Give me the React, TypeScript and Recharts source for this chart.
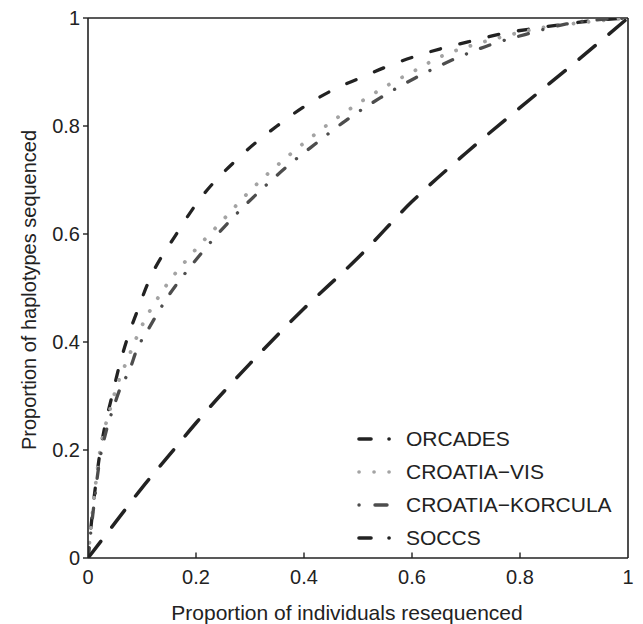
import React from 'react';
import {
  LineChart, Line, XAxis, YAxis, ReferenceLine,
} from 'recharts';

if (typeof document !== 'undefined') {
  document.body.style.margin = '0';
}

const FONT = '"Liberation Sans", Arial, Helvetica, sans-serif';
const INK = '#222222';

const TICKS = [0, 0.2, 0.4, 0.6, 0.8, 1];

const orcadesX = [0, 0.01, 0.02, 0.031, 0.044, 0.056, 0.072, 0.09, 0.111, 0.165, 0.2, 0.281, 0.35, 0.402, 0.454, 0.504, 0.556, 0.609, 0.664, 0.717, 0.772, 0.828, 0.886, 0.935, 1];
const orcadesY = [0, 0.1, 0.18, 0.243, 0.298, 0.348, 0.404, 0.454, 0.509, 0.602, 0.655, 0.743, 0.8, 0.837, 0.867, 0.889, 0.911, 0.93, 0.946, 0.959, 0.972, 0.981, 0.989, 0.995, 1];

const visX = [0, 0.01, 0.024, 0.03, 0.038, 0.053, 0.075, 0.096, 0.139, 0.192, 0.25, 0.3, 0.37, 0.393, 0.461, 0.507, 0.556, 0.606, 0.656, 0.707, 0.763, 0.846, 0.92, 1];
const visY = [0, 0.1, 0.209, 0.237, 0.265, 0.317, 0.372, 0.422, 0.496, 0.563, 0.626, 0.68, 0.744, 0.763, 0.815, 0.846, 0.876, 0.903, 0.93, 0.948, 0.964, 0.983, 0.992, 1];

const korculaX = [0, 0.01, 0.02, 0.035, 0.047, 0.06, 0.077, 0.09, 0.109, 0.148, 0.195, 0.244, 0.27, 0.324, 0.383, 0.411, 0.476, 0.541, 0.606, 0.674, 0.744, 0.819, 0.886, 1];
const korculaY = [0, 0.09, 0.17, 0.24, 0.278, 0.315, 0.348, 0.385, 0.419, 0.484, 0.546, 0.604, 0.632, 0.685, 0.737, 0.759, 0.809, 0.852, 0.889, 0.922, 0.95, 0.972, 0.989, 1];

const soccsX = [0, 0.05, 0.1, 0.15, 0.2, 0.3, 0.4, 0.5, 0.6, 0.7, 0.8, 0.9, 1];
const soccsY = [0, 0.065, 0.13, 0.19, 0.25, 0.36, 0.462, 0.556, 0.66, 0.75, 0.834, 0.916, 1];

const toPoints = (xs: number[], ys: number[]) => xs.map((x, i) => ({ x, y: ys[i] }));

const SERIES = [
  { name: 'ORCADES', data: toPoints(orcadesX, orcadesY), color: INK, dash: '10 20', width: 3.3 },
  { name: 'CROATIA\u2212VIS', data: toPoints(visX, visY), color: '#a3a3a3', dash: '0.1 15', width: 3.8 },
  { name: 'CROATIA\u2212KORCULA', data: toPoints(korculaX, korculaY), color: '#4d4d4d', dash: '10 15 0.1 15', width: 3.3 },
  { name: 'SOCCS', data: toPoints(soccsX, soccsY), color: INK, dash: '21 18', width: 3.5 },
];

function LegendSample({ idx, color }: { idx: number; color: string }) {
  const common = { stroke: color, strokeLinecap: 'round' as const };
  if (idx === 1) {
    return (
      <g {...common} strokeWidth={3.6}>
        <line x1={3} y1={8} x2={3.1} y2={8} />
        <line x1={18} y1={8} x2={18.1} y2={8} />
        <line x1={33} y1={8} x2={33.1} y2={8} />
      </g>
    );
  }
  if (idx === 2) {
    return (
      <g {...common} strokeWidth={3.4}>
        <line x1={3} y1={8} x2={3.1} y2={8} />
        <line x1={19} y1={8} x2={31} y2={8} />
      </g>
    );
  }
  return (
    <g {...common} strokeWidth={3.6}>
      <line x1={3} y1={8} x2={15} y2={8} />
      <line x1={33} y1={8} x2={33.1} y2={8} />
    </g>
  );
}

function ChartLegend() {
  return (
    <div style={{ position: 'absolute', left: 356, top: 422, fontFamily: FONT, fontSize: 21, color: INK }}>
      {SERIES.map((s, i) => (
        <div key={s.name} style={{ display: 'flex', alignItems: 'center', height: 33 }}>
          <svg width={40} height={16} style={{ marginRight: 10 }}>
            <LegendSample idx={i} color={s.color} />
          </svg>
          <span style={{ whiteSpace: 'nowrap' }}>{s.name}</span>
        </div>
      ))}
    </div>
  );
}

const fmt = (v: number) => (v === 0 ? '0' : v === 1 ? '1' : String(v));

export default function App() {
  return (
    <div style={{ position: 'relative', width: 643, height: 624, background: '#fff' }}>
      <LineChart width={643} height={624} margin={{ top: 18, right: 15, bottom: 36, left: 40 }}>
        <XAxis
          type="number"
          dataKey="x"
          domain={[0, 1]}
          ticks={TICKS}
          tickFormatter={fmt}
          allowDataOverflow
          height={30}
          tickLine={false}
          tickSize={0}
          tickMargin={12}
          axisLine={{ stroke: INK, strokeWidth: 1.6 }}
          tick={{ fontSize: 20, fill: INK, fontFamily: FONT }}
          label={{
            content: () => (
              <text
                x={347}
                y={612}
                textAnchor="middle"
                dominantBaseline="central"
                fontSize={21}
                fill={INK}
                fontFamily={FONT}
              >
                Proportion of individuals resequenced
              </text>
            ),
          }}
        />
        <YAxis
          type="number"
          dataKey="y"
          domain={[0, 1]}
          ticks={TICKS}
          tickFormatter={fmt}
          allowDataOverflow
          width={48}
          tickSize={5}
          tickMargin={3}
          tickLine={{ stroke: INK, strokeWidth: 1.4 }}
          axisLine={{ stroke: INK, strokeWidth: 1.6 }}
          tick={{ fontSize: 20, fill: INK, fontFamily: FONT }}
          label={{
            content: () => (
              <text
                transform="translate(29,290) rotate(-90)"
                textAnchor="middle"
                dominantBaseline="central"
                fontSize={20}
                fill={INK}
                fontFamily={FONT}
              >
                Proportion of haplotypes sequenced
              </text>
            ),
          }}
        />
        <ReferenceLine y={1} stroke={INK} strokeWidth={1.6} />
        <ReferenceLine x={1} stroke={INK} strokeWidth={1.6} />
        {TICKS.slice(1, 5).map(t => (
          <ReferenceLine
            key={`xt-${t}`}
            segment={[{ x: t, y: 0 }, { x: t, y: 0.01 }]}
            stroke={INK}
            strokeWidth={1.4}
          />
        ))}
        {SERIES.map(s => (
          <Line
            key={s.name}
            data={s.data}
            dataKey="y"
            name={s.name}
            type="monotone"
            stroke={s.color}
            strokeWidth={s.width}
            strokeDasharray={s.dash}
            strokeLinecap="round"
            dot={false}
            activeDot={false}
            isAnimationActive={false}
          />
        ))}
      </LineChart>
      <ChartLegend />
    </div>
  );
}
